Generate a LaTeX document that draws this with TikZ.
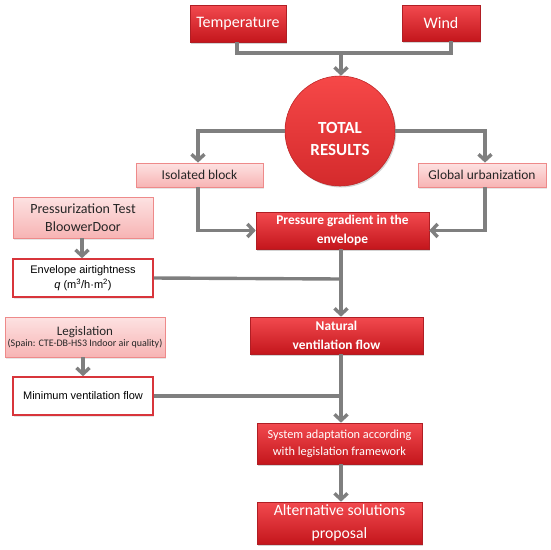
\documentclass[tikz,border=0pt]{standalone}
\usepackage{fontspec}
\setmainfont{Carlito}
\newfontfamily\arialf{Liberation Sans}
\usetikzlibrary{arrows.meta,shadows,calc}
\definecolor{redtop}{HTML}{F24A4F}
\definecolor{redbot}{HTML}{C4161C}
\definecolor{redline}{HTML}{B01E24}
\definecolor{circtop}{HTML}{F64848}
\definecolor{circbot}{HTML}{D42A2C}
\definecolor{pinktop}{HTML}{FDE2E2}
\definecolor{pinkbot}{HTML}{F7B4B4}
\definecolor{pinkline}{HTML}{EE8A8A}
\definecolor{wline}{HTML}{D8353B}
\definecolor{conncol}{HTML}{7F7F7F}
\tikzset{
  darkbox/.style={draw=redline, line width=0.6pt, top color=redtop, bottom color=redbot, text=white,
    inner sep=0pt, align=center, drop shadow={shadow xshift=1.2pt,shadow yshift=-1.5pt,opacity=0.35}},
  lightbox/.style={draw=pinkline, line width=0.8pt, top color=pinktop, bottom color=pinkbot, text=black!85,
    inner sep=0pt, align=center, drop shadow={shadow xshift=1.2pt,shadow yshift=-1.5pt,opacity=0.2}},
  whitebox/.style={draw=wline, line width=1.6pt, fill=white, text=black, inner sep=0pt, align=center,
    drop shadow={shadow xshift=1.2pt,shadow yshift=-1.5pt,opacity=0.2}},
  conn/.style={draw=conncol, line width=3.4pt},
  arr/.style={conn, -{Straight Barb[length=6pt,width=13pt]}},
}
\begin{document}
\begin{tikzpicture}[x=1pt,y=-1pt]
\useasboundingbox (0,0) rectangle (550,550);
% top boxes
\node[darkbox, minimum width=96pt, minimum height=37pt, font=\fontsize{16}{19}\selectfont] (temp) at (238,23.5) {Temperature};
\node[darkbox, minimum width=78pt, minimum height=36pt, font=\fontsize{16}{19}\selectfont] (wind) at (441,23) {Wind};
% circle
\node[circle, draw=circbot!90!black, line width=0.6pt, top color=circtop, bottom color=circbot, minimum size=110pt,
  drop shadow={shadow xshift=1.2pt,shadow yshift=-1.5pt,opacity=0.35}] (tot) at (340,131) {};
\node[text=white, align=center, font=\bfseries\fontsize{17}{22}\selectfont] (totlabel) at ([yshift=-8pt]tot.center) {TOTAL\\RESULTS};
% second row
\node[lightbox, minimum width=127pt, minimum height=24pt, font=\fontsize{13.5}{15}\selectfont] (iso) at (199.5,175) {Isolated block};
\node[lightbox, minimum width=128pt, minimum height=24pt, font=\fontsize{13.5}{15}\selectfont] (glob) at (482,175) {Global urbanization};
% left column
\node[lightbox, minimum width=140pt, minimum height=41pt, font=\fontsize{14}{18}\selectfont] (press) at (83,217.5) {Pressurization Test\\BloowerDoor};
\node[whitebox, minimum width=140pt, minimum height=38pt, font=\arialf\fontsize{11}{15}\selectfont] (env) at (83,278) {Envelope airtightness\\\textit{q} (m\textsuperscript{3}/h·m\textsuperscript{2})};
\node[lightbox, minimum width=160pt, minimum height=40pt] (leg) at (85,337) {\fontsize{13}{16}\selectfont Legislation\\[-1pt]\fontsize{10}{13}\selectfont (Spain: CTE-DB-HS3 Indoor air quality)};
\node[whitebox, minimum width=140pt, minimum height=38pt, font=\arialf\fontsize{11}{14}\selectfont] (minv) at (83,396) {Minimum ventilation flow};
% center column
\node[darkbox, minimum width=173pt, minimum height=37pt, font=\bfseries\fontsize{13.4}{19}\selectfont] (pg) at (342.5,230.5) {Pressure gradient in the\\envelope};
\node[darkbox, minimum width=173pt, minimum height=37pt, font=\bfseries\fontsize{13.4}{19}\selectfont] (nat) at (336.5,335.5) {Natural\\ventilation flow};
\node[darkbox, minimum width=165pt, minimum height=41pt, font=\fontsize{12.3}{17}\selectfont] (sys) at (339.5,443.5) {System adaptation according\\with legislation framework};
\node[darkbox, minimum width=165pt, minimum height=42pt, font=\fontsize{15.7}{23}\selectfont] (alt) at (339.5,523) {Alternative solutions\\proposal};
% connectors
\coordinate (tw) at (341,53);
\draw[conn] ([xshift=-1pt]temp.south) |- (tw) -| ([xshift=10pt]wind.south);
\draw[arr] (tw) -- (tot.north -| tw);
\draw[arr] (tot.west) -| ([xshift=-1.5pt]iso.north);
\draw[arr] (tot.east) -| ([xshift=3pt]glob.north);
\draw[arr] ([xshift=-1.5pt]iso.south) |- (pg.west);
\draw[arr] ([xshift=3pt]glob.south) |- (pg.east);
\draw[arr] ([xshift=-1pt]press.south) -- ([xshift=-1pt]env.north);
\draw[arr] ([xshift=-2pt]leg.south) -- ([xshift=0pt]minv.north);
\coordinate (j1) at (341,279);
\coordinate (j2) at (341,396);
\draw[conn] (env.east) -- (j1);
\draw[conn] (minv.east) -- (j2);
\draw[arr] (pg.south -| j1) -- (nat.north -| j1);
\draw[arr] (nat.south -| j1) -- (sys.north -| j1);
\draw[arr] (sys.south -| j1) -- (alt.north -| j1);
\end{tikzpicture}
\end{document}
